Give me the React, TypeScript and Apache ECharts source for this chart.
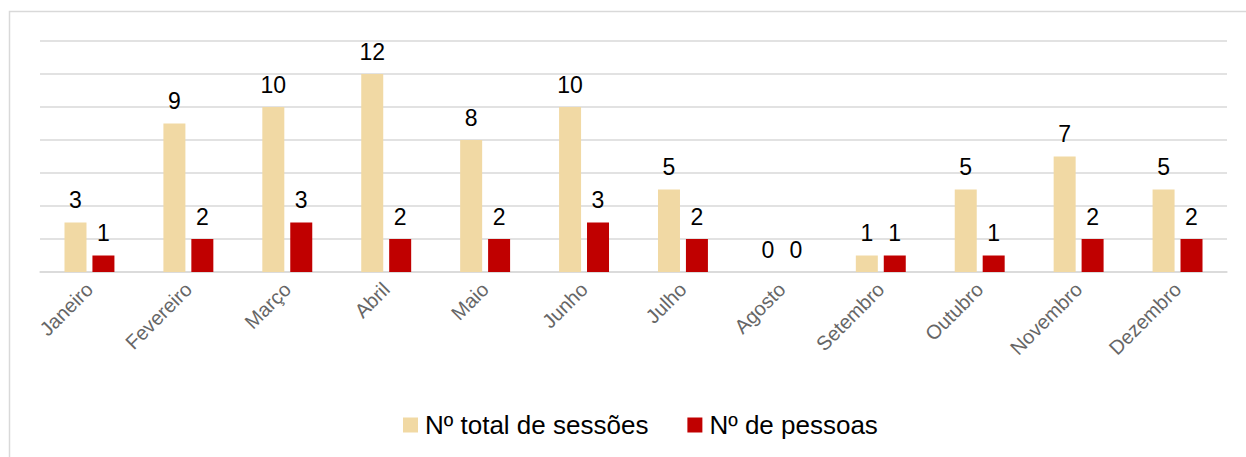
import React, { useEffect, useRef } from "react";
import * as echarts from "echarts";

const months = ["Janeiro", "Fevereiro", "Março", "Abril", "Maio", "Junho", "Julho", "Agosto", "Setembro", "Outubro", "Novembro", "Dezembro"];
const totalSessoes = [3, 9, 10, 12, 8, 10, 5, 0, 1, 5, 7, 5];
const numPessoas = [1, 2, 3, 2, 2, 3, 2, 0, 1, 1, 2, 2];
const seriesNames = ["Nº total de sessões", "Nº de pessoas"];

const FONT = "'Liberation Sans', Arial, sans-serif";

export default function App() {
  const ref = useRef<HTMLDivElement>(null);
  useEffect(() => {
    if (!ref.current) return;
    const chart = echarts.init(ref.current, undefined, { renderer: "svg" });
    const label = {
      show: true,
      position: "top",
      distance: 11,
      color: "#000",
      fontSize: 23,
      fontFamily: FONT,
    };
    chart.setOption({
      animation: false,
      backgroundColor: "#fff",
      textStyle: { fontFamily: FONT },
      graphic: [
        {
          type: "rect",
          shape: { x: 9.5, y: 11.5, width: 1260, height: 470 },
          style: { fill: "none", stroke: "#d9d9d9", lineWidth: 1.5 },
          silent: true,
        },
      ],
      grid: { left: 40, right: 19, top: 41, bottom: 185, containLabel: false },
      legend: {
        data: seriesNames,
        top: 407,
        left: 398,
        itemWidth: 15,
        itemHeight: 15,
        itemGap: 39,
        icon: "rect",
        textStyle: { fontSize: 26, color: "#000", fontFamily: FONT, padding: [0, 0, 0, 2] },
      },
      xAxis: {
        type: "category",
        data: months,
        axisLine: { show: true, lineStyle: { color: "#d9d9d9", width: 1.5 } },
        axisTick: { show: false },
        axisLabel: {
          rotate: 45,
          color: "#666666",
          fontSize: 20,
          fontFamily: FONT,
          interval: 0,
          margin: 14,
        },
      },
      yAxis: {
        type: "value",
        min: 0,
        max: 14,
        interval: 2,
        axisLabel: { show: false },
        axisLine: { show: false },
        axisTick: { show: false },
        splitLine: { lineStyle: { color: "#d9d9d9", width: 1.5 } },
      },
      series: [
        {
          name: seriesNames[0],
          type: "bar",
          data: totalSessoes,
          barWidth: 22,
          barGap: "27%",
          itemStyle: { color: "#F1D9A4" },
          label,
        },
        {
          name: seriesNames[1],
          type: "bar",
          data: numPessoas,
          barWidth: 22,
          barGap: "27%",
          itemStyle: { color: "#C00000" },
          label,
        },
      ],
    });
    return () => chart.dispose();
  }, []);
  return (
    <div
      ref={ref}
      style={{ position: "fixed", left: 0, top: 0, width: 1246, height: 457 }}
    />
  );
}
